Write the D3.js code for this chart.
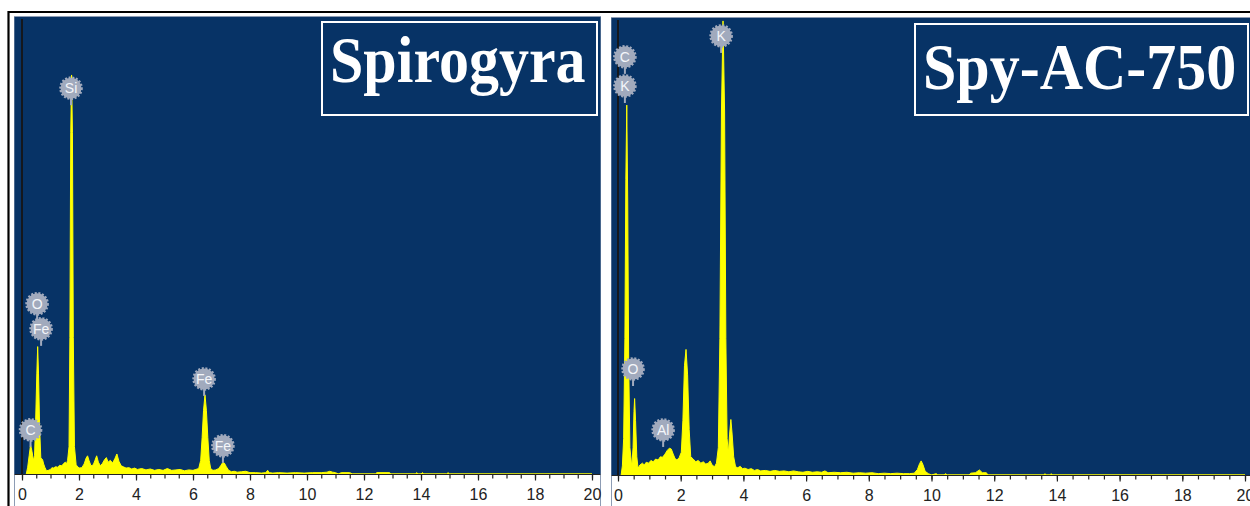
<!DOCTYPE html>
<html>
<head>
<meta charset="utf-8">
<script src="https://cdn.jsdelivr.net/npm/d3@7"></script>
<style>
  body { margin: 0; background: #fff; }
  svg { display: block; }
</style>
</head>
<body>
<script>
// energy (keV) ticks along the bottom
var majorTicks = [0, 2, 4, 6, 8, 10, 12, 14, 16, 18, 20];
var minorStep = 0.5;

// panel titles
var spirogyraTitle = "Spirogyra";
var activatedTitle = "Spy-AC-750";

// spectra as [energy keV, counts %]
var spirogyraSpectrum = [
  [0.15,0],[0.2,1.5],[0.25,4],[0.3,6.4],[0.35,5],[0.4,3],[0.44,4],[0.48,12],[0.52,22],[0.55,28],
  [0.58,22],[0.62,10],[0.66,3.5],[0.72,3.2],[0.76,2.2],[0.8,1.5],[0.86,0.7],[0.92,0.8],[1.0,1.0],
  [1.05,1.4],[1.1,1.3],[1.18,1.6],[1.25,1.5],[1.32,1.9],[1.4,1.8],[1.46,2.3],[1.52,2.6],[1.56,2.2],
  [1.6,3],[1.65,6],[1.68,30],[1.71,75],[1.74,87.7],[1.77,75],[1.8,30],[1.84,6],[1.9,2],[2.0,1.3],
  [2.1,1.4],[2.18,2.2],[2.25,3.5],[2.3,4],[2.35,3],[2.42,1.8],[2.5,2],[2.56,3],[2.62,4],[2.68,2.6],
  [2.75,1.8],[2.82,2.3],[2.9,3.2],[2.96,3.6],[3.02,2.6],[3.1,3],[3.18,2.4],[3.26,3.4],[3.33,4.4],
  [3.4,2.8],[3.48,1.8],[3.55,1.6],[3.65,1.3],[3.75,1.4],[3.85,1.1],[3.95,1.3],[4.05,1.0],[4.2,1.2],
  [4.35,0.9],[4.5,1.1],[4.65,0.8],[4.8,1.0],[4.95,0.8],[5.1,1.2],[5.25,0.8],[5.4,0.9],[5.55,1.0],
  [5.7,0.7],[5.85,0.9],[6.0,0.8],[6.1,1.0],[6.2,1.2],[6.27,3],[6.32,8],[6.37,14],[6.42,17.4],
  [6.47,14],[6.52,8],[6.57,3],[6.62,1.2],[6.7,0.8],[6.8,0.9],[6.9,1.2],[6.97,1.8],[7.04,2.5],
  [7.1,2.4],[7.17,1.6],[7.25,0.8],[7.35,0.5],[7.45,0.6],[7.55,0.4],[7.7,0.5],[7.85,0.6],[8.0,0.3],
  [8.2,0.3],[8.4,0.2],[8.55,0.3],[8.62,0.8],[8.68,0.3],[8.8,0.2],[9.0,0.3],[9.3,0.2],[9.6,0.3],
  [9.9,0.2],[10.2,0.3],[10.5,0.3],[10.7,0.4],[10.8,0.6],[10.9,0.4],[11.0,0.3],[11.1,0],[11.2,0.3],
  [11.5,0.3],[11.6,0],[12.4,0],[12.45,0.3],[12.9,0.3],[12.95,0],[13.8,0],[13.85,0.3],[13.9,0],
  [14.0,0],[14.05,0.3],[14.1,0],[14.9,0],[14.95,0.3],[15.0,0],[20,0]
];

var activatedSpectrum = [
  [0.1,0],[0.14,2],[0.18,8],[0.22,30],[0.25,65],[0.28,81.3],[0.31,60],[0.34,25],[0.38,6],[0.44,1.8],
  [0.48,6],[0.51,14],[0.53,16.8],[0.56,12],[0.6,4],[0.64,1.5],[0.7,2.2],[0.78,2.6],[0.84,2.2],
  [0.9,2.8],[0.98,2.6],[1.05,3.2],[1.12,2.9],[1.2,3.5],[1.28,3.3],[1.35,4],[1.42,3.9],[1.5,4.6],
  [1.57,5.4],[1.64,5.9],[1.7,5.7],[1.76,4.6],[1.82,3.6],[1.88,3.3],[1.95,3.8],[2.02,5],[2.07,12],
  [2.12,24],[2.17,27.6],[2.22,22],[2.27,10],[2.32,4],[2.4,3.5],[2.48,2.9],[2.56,3.2],[2.64,2.6],
  [2.72,2.9],[2.8,2.4],[2.88,2.6],[2.94,3.1],[3.0,2.2],[3.08,1.8],[3.14,2.6],[3.2,6],[3.25,30],
  [3.3,80],[3.35,99.8],[3.4,80],[3.44,30],[3.48,8],[3.52,4.8],[3.56,9],[3.6,12.2],[3.64,9],
  [3.69,4],[3.75,1.8],[3.82,1.6],[3.9,1.9],[3.97,1.4],[4.05,1.5],[4.15,1.2],[4.25,1.4],[4.35,1.0],
  [4.45,1.2],[4.55,0.9],[4.7,1.0],[4.85,0.8],[5.0,1.0],[5.15,0.8],[5.3,0.9],[5.45,0.7],[5.6,0.9],
  [5.75,0.7],[5.9,0.6],[6.05,0.8],[6.2,0.6],[6.35,0.7],[6.5,0.6],[6.6,0.9],[6.7,0.5],[6.9,0.6],
  [7.1,0.5],[7.3,0.6],[7.5,0.4],[7.7,0.5],[7.9,0.4],[8.1,0.5],[8.3,0.3],[8.5,0.4],[8.7,0.3],
  [8.9,0.4],[9.1,0.3],[9.3,0.3],[9.45,0.4],[9.55,1.2],[9.62,2.5],[9.67,3.1],[9.72,2.4],[9.8,0.8],
  [9.9,0.3],[10.0,0],[10.15,0.3],[10.2,0],[10.4,0],[10.45,0.3],[10.5,0],[11.2,0],[11.25,0.4],
  [11.4,0.5],[11.53,1.1],[11.62,0.5],[11.75,0.5],[11.8,0],[13.6,0],[13.62,0.3],[13.66,0],
  [13.8,0],[13.82,0.3],[13.86,0],[20,0]
];

// element markers: [symbol, energy keV, counts % at marker centre]
var spirogyraLabels = [
  ["O", 0.53, 37.4], ["Fe", 0.67, 31.9], ["C", 0.3, 9.7],
  ["Si", 1.72, 84.8], ["Fe", 6.39, 20.9], ["Fe", 7.05, 6.2]
];
var activatedLabels = [
  ["C", 0.22, 91.9], ["K", 0.22, 85.5], ["K", 3.29, 96.5],
  ["O", 0.48, 23.3], ["Al", 1.44, 9.9]
];

var W = 1250, H = 506;
var navy = "#073366", yellow = "#ffff00", bubble = "#a1aabd";

var svg = d3.select("body").append("svg")
  .attr("width", W)
  .attr("height", H);

svg.append("rect").attr("width", W).attr("height", H).attr("fill", "#fff");

// outer frame lines
svg.append("line").attr("x1", 8).attr("x2", W).attr("y1", 12).attr("y2", 12)
  .attr("stroke", "#000").attr("stroke-width", 2.2);
svg.append("line").attr("x1", 8.5).attr("x2", 8.5).attr("y1", 11).attr("y2", H)
  .attr("stroke", "#000").attr("stroke-width", 2.2);

var panels = [
  { id: "a", title: spirogyraTitle, spectrum: spirogyraSpectrum, labels: spirogyraLabels,
    left: 14.5, right: 600.5, top: 17, base: 474, x0: 22, x20: 592,
    box: { x: 322, y: 22, w: 275, h: 93, tx: 330, ty: 82 } },
  { id: "b", title: activatedTitle, spectrum: activatedSpectrum, labels: activatedLabels,
    left: 611.5, right: 1251, top: 18, base: 475, x0: 618, x20: 1245,
    box: { x: 915, y: 24, w: 333, h: 91, tx: 923, ty: 89 } }
];

panels.forEach(function(p) {
  var g = svg.append("g");

  var x = d3.scaleLinear().domain([0, 20]).range([p.x0, p.x20]);
  var y = d3.scaleLinear().domain([0, 100]).range([p.base, p.base - 455]);

  // panel frame (runs down through the axis strip)
  g.append("rect")
    .attr("x", p.left).attr("y", p.top - 0.5)
    .attr("width", p.right - p.left).attr("height", H - p.top + 2)
    .attr("fill", "#fff").attr("stroke", "#8d9cb4").attr("stroke-width", 1);

  g.append("rect")
    .attr("x", p.left).attr("y", p.top)
    .attr("width", p.right - p.left).attr("height", p.base - p.top)
    .attr("fill", navy);

  svg.append("clipPath").attr("id", "clip-" + p.id)
    .append("rect")
      .attr("x", p.left).attr("y", p.top)
      .attr("width", p.right - p.left).attr("height", p.base - p.top);

  // spectrum
  var area = d3.area()
    .x(function(d) { return x(d[0]); })
    .y0(p.base)
    .y1(function(d) { return y(d[1]); });

  g.append("path")
    .datum(p.spectrum)
    .attr("clip-path", "url(#clip-" + p.id + ")")
    .attr("d", area)
    .attr("fill", yellow)
    .attr("stroke", yellow)
    .attr("stroke-width", 1)
    .attr("stroke-linejoin", "round");

  // vertical zero line
  g.append("line")
    .attr("x1", x(0)).attr("x2", x(0))
    .attr("y1", p.top + 2).attr("y2", p.base)
    .attr("stroke", "#14171c").attr("stroke-width", 2);

  // baseline
  g.append("line")
    .attr("x1", p.left).attr("x2", p.right)
    .attr("y1", p.base + 0.5).attr("y2", p.base + 0.5)
    .attr("stroke", "#222").attr("stroke-width", 1.2);

  // axis: minor ticks then labelled majors
  var minor = d3.range(0, 20 + minorStep / 2, minorStep);
  g.append("g")
    .attr("transform", "translate(0," + (p.base + 0.5) + ")")
    .call(d3.axisBottom(x).tickValues(minor).tickSize(4).tickFormat(""))
    .call(function(a) {
      a.select(".domain").remove();
      a.selectAll("line").attr("stroke", "#222").attr("stroke-width", 1.2);
    });

  g.append("g")
    .attr("transform", "translate(0," + (p.base + 0.5) + ")")
    .call(d3.axisBottom(x).tickValues(majorTicks).tickSize(6).tickPadding(8).tickFormat(d3.format("d")))
    .call(function(a) {
      a.select(".domain").remove();
      a.selectAll("line").attr("stroke", "#222").attr("stroke-width", 1.2);
      a.selectAll("text")
        .attr("fill", "#222")
        .style("font-family", "'Liberation Sans', Arial, sans-serif")
        .style("font-size", "16px");
    });

  // element markers
  var mk = g.selectAll(".marker")
    .data(p.labels)
    .enter().append("g")
      .attr("class", "marker")
      .attr("transform", function(d) { return "translate(" + x(d[1]) + "," + y(d[2]) + ")"; });

  mk.append("line")
    .attr("x1", 0).attr("x2", 0).attr("y1", 8).attr("y2", 17)
    .attr("stroke", bubble).attr("stroke-width", 2);

  mk.append("circle")
    .attr("r", 10.5)
    .attr("fill", bubble)
    .attr("stroke", bubble)
    .attr("stroke-width", 2.6)
    .attr("stroke-dasharray", "2 1.6");

  mk.append("text")
    .attr("text-anchor", "middle")
    .attr("dy", "0.36em")
    .attr("fill", "#f4f6fa")
    .style("font-family", "'Liberation Sans', Arial, sans-serif")
    .style("font-size", "14px")
    .text(function(d) { return d[0]; });

  // title box
  g.append("rect")
    .attr("x", p.box.x).attr("y", p.box.y)
    .attr("width", p.box.w).attr("height", p.box.h)
    .attr("fill", "none").attr("stroke", "#fff").attr("stroke-width", 2);

  g.append("text")
    .attr("transform", "translate(" + p.box.tx + "," + p.box.ty + ") scale(1,1.1)")
    .attr("fill", "#fff")
    .style("font-family", "'Liberation Serif', 'Times New Roman', serif")
    .style("font-weight", "bold")
    .style("font-size", "60px")
    .text(p.title);
});
</script>
</body>
</html>
